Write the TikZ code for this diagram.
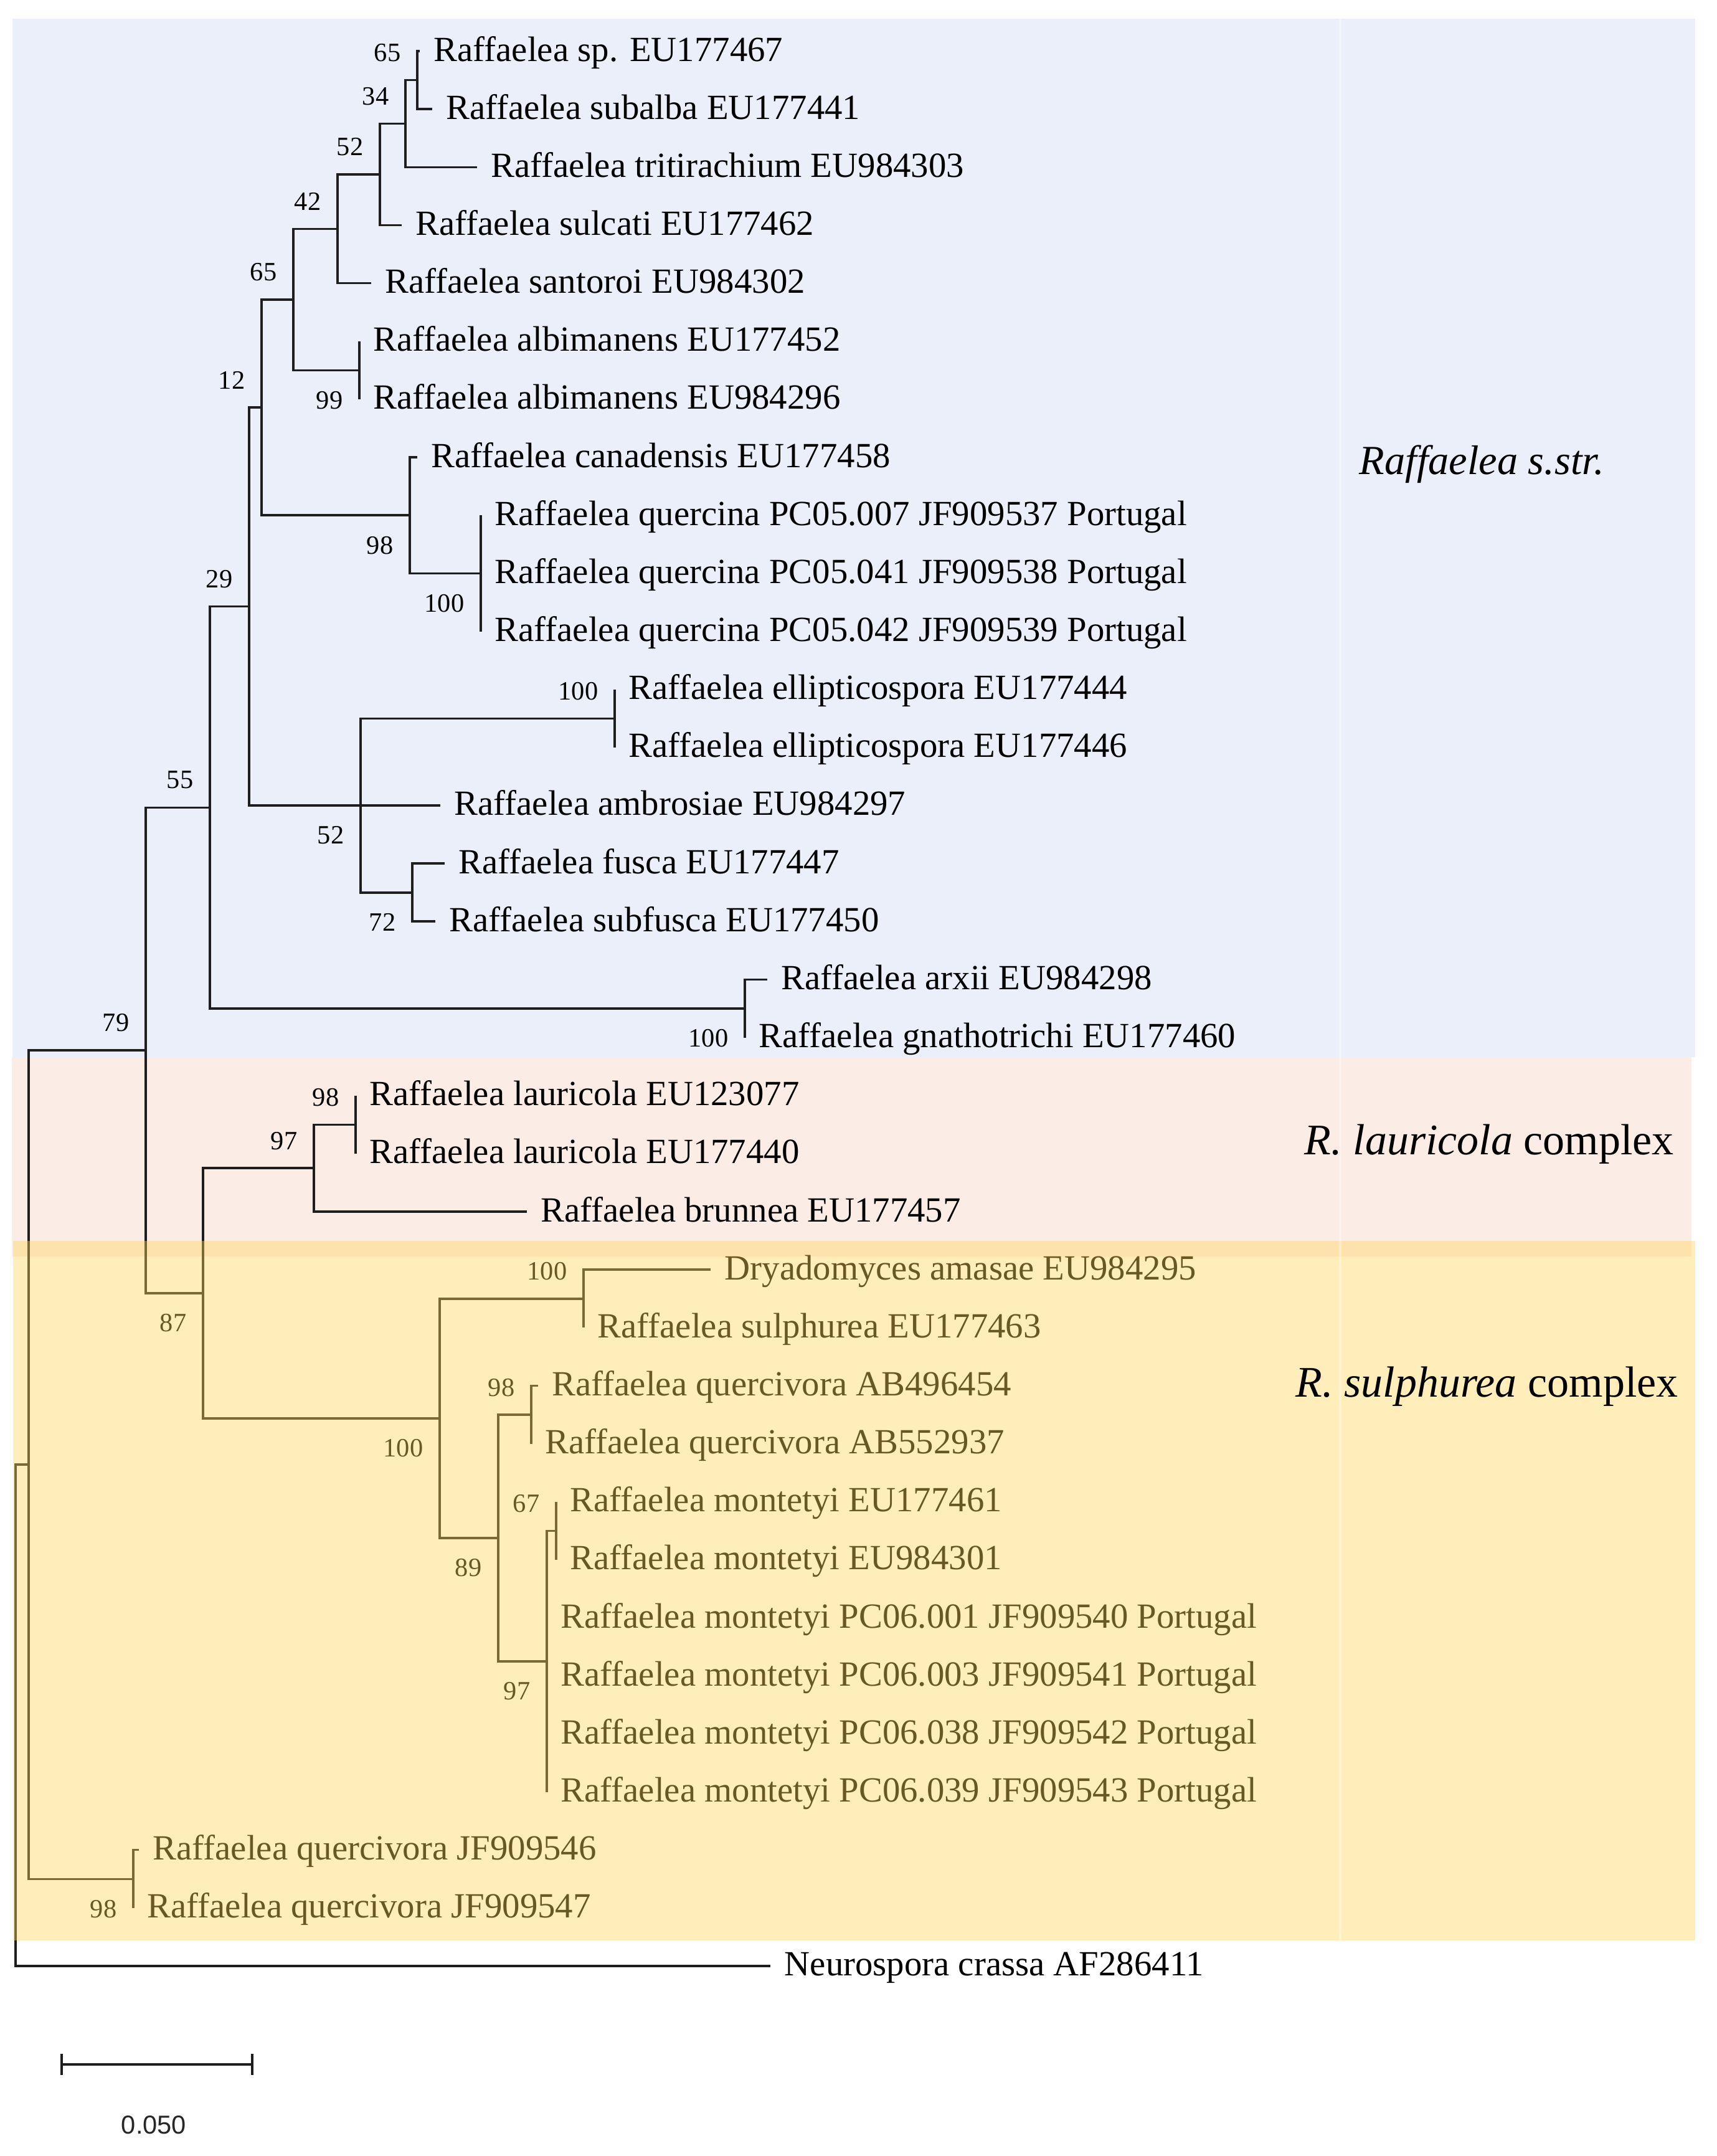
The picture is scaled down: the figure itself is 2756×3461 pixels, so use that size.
\documentclass[tikz,border=0pt]{standalone}
\usepackage{fontspec}
\setmainfont{Liberation Serif}[Ligatures=CommonOff]
\newfontfamily\scalebarfont{Liberation Sans}
\newcommand\leaffont{\fontsize{14.2}{17}\selectfont}
\newcommand\bsfont{\fontsize{10.6}{12}\selectfont}
\newcommand\grpfont{\fontsize{17.5}{20}\selectfont}
\newcommand\ry[1]{93.15*#1-11.15}
\definecolor{bluebg}{RGB}{234,239,249}
\definecolor{pinkbg}{RGB}{252,236,230}
\definecolor{yellowov}{RGB}{255,214,88}
\definecolor{linec}{RGB}{30,30,30}
\begin{document}
\begin{tikzpicture}[x=0.25pt,y=-0.25pt,
  br/.style={draw=linec,line width=0.9pt},
  leaf/.style={anchor=base west,inner sep=0pt,xshift=5.5pt,yshift=-4pt,font=\leaffont},
  bsu/.style={anchor=east,inner sep=0pt,xshift=-6.5pt,yshift=11pt,font=\bsfont},
  bsd/.style={anchor=east,inner sep=0pt,xshift=-6.5pt,yshift=-12pt,font=\bsfont},
  grp/.style={anchor=west,inner sep=0pt,font=\grpfont}]
\useasboundingbox (0,0) rectangle (2756,3461);
\fill[white] (0,0) rectangle (2756,3461);
\fill[bluebg] (20,30) rectangle (2722,1697);
\fill[pinkbg] (19,1697) rectangle (2716,2017);

% internal nodes
\coordinate (nA) at (670,128.6);
\coordinate (n34) at (651,198.5);
\coordinate (n52) at (610,280.0);
\coordinate (n42) at (542,367.3);
\coordinate (nAlb) at (577,594.4);
\coordinate (n65) at (471,480.8);
\coordinate (nQ) at (772,920.4);
\coordinate (n98) at (658,827.2);
\coordinate (n12) at (420,654.0);
\coordinate (nEll) at (987,1153.3);
\coordinate (nFus) at (662,1432.7);
\coordinate (n52b) at (579,1293.0);
\coordinate (n29) at (400,973.5);
\coordinate (nArx) at (1196,1619.0);
\coordinate (n55) at (337,1296.3);
\coordinate (nLau) at (571,1805.3);
\coordinate (n97a) at (504,1875.2);
\coordinate (nDry) at (937,2084.8);
\coordinate (nQv) at (853,2271.1);
\coordinate (nMEU) at (893,2457.4);
\coordinate (n97b) at (878,2667.0);
\coordinate (n89) at (800,2469.0);
\coordinate (n100) at (706,2276.9);
\coordinate (n87) at (326,2076.0);
\coordinate (n79) at (234,1686.1);
\coordinate (nJF) at (214,3016.3);
\coordinate (nIn) at (46,2351.2);
\coordinate (nRoot) at (25,2753.6);

% tips
\coordinate (t1) at (674,{\ry{1}});
\coordinate (t2) at (694,{\ry{2}});
\coordinate (t3) at (766,{\ry{3}});
\coordinate (t4) at (645,{\ry{4}});
\coordinate (t5) at (596,{\ry{5}});
\coordinate (t6) at (577,{\ry{6}});
\coordinate (t7) at (577,{\ry{7}});
\coordinate (t8) at (670,{\ry{8}});
\coordinate (t9) at (772,{\ry{9}});
\coordinate (t10) at (772,{\ry{10}});
\coordinate (t11) at (772,{\ry{11}});
\coordinate (t12) at (987,{\ry{12}});
\coordinate (t13) at (987,{\ry{13}});
\coordinate (t14) at (707,{\ry{14}});
\coordinate (t15) at (714,{\ry{15}});
\coordinate (t16) at (699,{\ry{16}});
\coordinate (t17) at (1232,{\ry{17}});
\coordinate (t18) at (1196,{\ry{18}});
\coordinate (t19) at (571,{\ry{19}});
\coordinate (t20) at (571,{\ry{20}});
\coordinate (t21) at (846,{\ry{21}});
\coordinate (t22) at (1141,{\ry{22}});
\coordinate (t23) at (937,{\ry{23}});
\coordinate (t24) at (864,{\ry{24}});
\coordinate (t25) at (853,{\ry{25}});
\coordinate (t26) at (893,{\ry{26}});
\coordinate (t27) at (893,{\ry{27}});
\coordinate (t28) at (878,{\ry{28}});
\coordinate (t29) at (878,{\ry{29}});
\coordinate (t30) at (878,{\ry{30}});
\coordinate (t31) at (878,{\ry{31}});
\coordinate (t32) at (223,{\ry{32}});
\coordinate (t33) at (214,{\ry{33}});
\coordinate (t34) at (1237,{\ry{34}});

% branches
\draw[br] (nA) |- (t1) (nA) |- (t2);
\draw[br] (n34) |- (nA) (n34) |- (t3);
\draw[br] (n52) |- (n34) (n52) |- (t4);
\draw[br] (n42) |- (n52) (n42) |- (t5);
\draw[br] (nAlb) |- (t6) (nAlb) |- (t7);
\draw[br] (n65) |- (n42) (n65) |- (nAlb);
\draw[br] (nQ) |- (t9) (nQ) |- (t11);
\draw[br] (n98) |- (t8) (n98) |- (nQ);
\draw[br] (n12) |- (n65) (n12) |- (n98);
\draw[br] (nEll) |- (t12) (nEll) |- (t13);
\draw[br] (nFus) |- (t15) (nFus) |- (t16);
\draw[br] (n52b) |- (nEll) (n52b) |- (t14) (n52b) |- (nFus);
\draw[br] (n29) |- (n12) (n29) |- (n52b);
\draw[br] (nArx) |- (t17) (nArx) |- (t18);
\draw[br] (n55) |- (n29) (n55) |- (nArx);
\draw[br] (nLau) |- (t19) (nLau) |- (t20);
\draw[br] (n97a) |- (nLau) (n97a) |- (t21);
\draw[br] (nDry) |- (t22) (nDry) |- (t23);
\draw[br] (nQv) |- (t24) (nQv) |- (t25);
\draw[br] (nMEU) |- (t26) (nMEU) |- (t27);
\draw[br] (n97b) |- (nMEU) (n97b) |- (t31);
\draw[br] (n89) |- (nQv) (n89) |- (n97b);
\draw[br] (n100) |- (nDry) (n100) |- (n89);
\draw[br] (n87) |- (n97a) (n87) |- (n100);
\draw[br] (n79) |- (n55) (n79) |- (n87);
\draw[br] (nJF) |- (t32) (nJF) |- (t33);
\draw[br] (nIn) |- (n79) (nIn) |- (nJF);
\draw[br] (nRoot) |- (nIn) (nRoot) |- (t34);

% leaf labels
\node[leaf] (l1) at (t1) {Raffaelea sp. EU177467};
\node[leaf] (l2) at (t2) {Raffaelea subalba EU177441};
\node[leaf] (l3) at (t3) {Raffaelea tritirachium EU984303};
\node[leaf] (l4) at (t4) {Raffaelea sulcati EU177462};
\node[leaf] (l5) at (t5) {Raffaelea santoroi EU984302};
\node[leaf] (l6) at (t6) {Raffaelea albimanens EU177452};
\node[leaf] (l7) at (t7) {Raffaelea albimanens EU984296};
\node[leaf] (l8) at (t8) {Raffaelea canadensis EU177458};
\node[leaf] (l9) at (t9) {Raffaelea quercina PC05.007 JF909537 Portugal};
\node[leaf] (l10) at (t10) {Raffaelea quercina PC05.041 JF909538 Portugal};
\node[leaf] (l11) at (t11) {Raffaelea quercina PC05.042 JF909539 Portugal};
\node[leaf] (l12) at (t12) {Raffaelea ellipticospora EU177444};
\node[leaf] (l13) at (t13) {Raffaelea ellipticospora EU177446};
\node[leaf] (l14) at (t14) {Raffaelea ambrosiae EU984297};
\node[leaf] (l15) at (t15) {Raffaelea fusca EU177447};
\node[leaf] (l16) at (t16) {Raffaelea subfusca EU177450};
\node[leaf] (l17) at (t17) {Raffaelea arxii EU984298};
\node[leaf] (l18) at (t18) {Raffaelea gnathotrichi EU177460};
\node[leaf] (l19) at (t19) {Raffaelea lauricola EU123077};
\node[leaf] (l20) at (t20) {Raffaelea lauricola EU177440};
\node[leaf] (l21) at (t21) {Raffaelea brunnea EU177457};
\node[leaf] (l22) at (t22) {Dryadomyces amasae EU984295};
\node[leaf] (l23) at (t23) {Raffaelea sulphurea EU177463};
\node[leaf] (l24) at (t24) {Raffaelea quercivora AB496454};
\node[leaf] (l25) at (t25) {Raffaelea quercivora AB552937};
\node[leaf] (l26) at (t26) {Raffaelea montetyi EU177461};
\node[leaf] (l27) at (t27) {Raffaelea montetyi EU984301};
\node[leaf] (l28) at (t28) {Raffaelea montetyi PC06.001 JF909540 Portugal};
\node[leaf] (l29) at (t29) {Raffaelea montetyi PC06.003 JF909541 Portugal};
\node[leaf] (l30) at (t30) {Raffaelea montetyi PC06.038 JF909542 Portugal};
\node[leaf] (l31) at (t31) {Raffaelea montetyi PC06.039 JF909543 Portugal};
\node[leaf] (l32) at (t32) {Raffaelea quercivora JF909546};
\node[leaf] (l33) at (t33) {Raffaelea quercivora JF909547};
\node[leaf] (l34) at (t34) {Neurospora crassa AF286411};

% bootstrap values
\node[bsu] (bA) at (nA) {65};
\node[bsu] (b34) at (n34) {34};
\node[bsu] (b52) at (n52) {52};
\node[bsu] (b42) at (n42) {42};
\node[bsu] (b65) at (n65) {65};
\node[bsu] (b12) at (n12) {12};
\node[bsu] (b29) at (n29) {29};
\node[bsu] (b55) at (n55) {55};
\node[bsu] (b79) at (n79) {79};
\node[bsu] (bEll) at (nEll) {100};
\node[bsu] (bLau) at (nLau) {98};
\node[bsu] (b97a) at (n97a) {97};
\node[bsu] (bDry) at (nDry) {100};
\node[bsu] (bQv) at (nQv) {98};
\node[bsu] (bMEU) at (nMEU) {67};
\node[bsd] (bAlb) at (nAlb) {99};
\node[bsd] (b98) at (n98) {98};
\node[bsd] (bQ) at (nQ) {100};
\node[bsd] (b52b) at (n52b) {52};
\node[bsd] (bFus) at (nFus) {72};
\node[bsd] (bArx) at (nArx) {100};
\node[bsd] (b87) at (n87) {87};
\node[bsd] (b100) at (n100) {100};
\node[bsd] (b89) at (n89) {89};
\node[bsd] (b97b) at (n97b) {97};
\node[bsd] (bJF) at (nJF) {98};

% yellow overlay (tints the tree below it)
\fill[yellowov,opacity=0.41] (21,1992) rectangle (2722,3115);
% faint seam
\fill[white,opacity=0.35] (2150,30) rectangle (2154,3115);

% group labels
\node[grp,font=\fontsize{16.6}{20}\selectfont] (gstr) at (2182,745) {\textit{Raffaelea s.str.}};
\node[grp] (glau) at (2094,1837) {\textit{R. lauricola} complex};
\node[grp] (gsul) at (2080,2226) {\textit{R. sulphurea} complex};

% scale bar
\coordinate (sb1) at (99,3314);
\coordinate (sb2) at (405,3314);
\draw[draw=linec,line width=1pt] (sb1) -- (sb2);
\draw[draw=linec,line width=1pt] ([yshift=4.25pt]sb1) -- ([yshift=-4.25pt]sb1);
\draw[draw=linec,line width=1pt] ([yshift=4.25pt]sb2) -- ([yshift=-4.25pt]sb2);
\node[inner sep=0pt,font=\scalebarfont\fontsize{10.4}{12}\selectfont,text=black!85] (sbl) at (247,3411) {0.050};
\end{tikzpicture}
\end{document}
